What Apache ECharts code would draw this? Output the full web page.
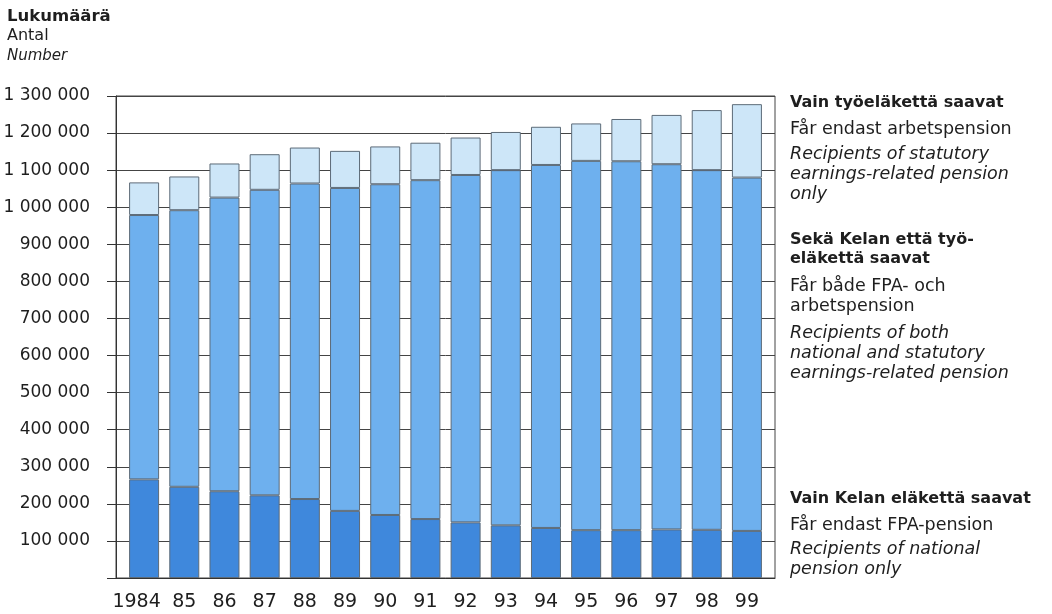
<!DOCTYPE html>
<html><head><meta charset="utf-8">
<script src="https://cdn.jsdelivr.net/npm/echarts@6/dist/echarts.min.js"></script>
<style>html,body{margin:0;padding:0;background:#fff}#c{width:1052px;height:614px}</style>
</head><body><div id="c"></div>
<script>
const years = ['1984','85','86','87','88','89','90','91','92','93','94','95','96','97','98','99'];
// Vain Kelan eläkettä saavat (national pension only)
const nationalOnly = [266000,246000,234000,223000,213000,181000,170000,159000,150000,142000,135000,129000,129000,131000,130000,127000];
// Sekä Kelan että työeläkettä saavat (both)
const both = [713000,746000,792000,824000,851000,871000,892000,914000,937000,958000,979000,996000,995000,985000,970000,953000];
// Vain työeläkettä saavat (earnings-related only)
const earningsOnly = [88000,91000,92000,96000,97000,100000,102000,101000,101000,103000,103000,101000,114000,133000,162000,198000];
const yMax = 1300000, yStep = 100000;

const F = 'DejaVu Sans';
const fmt = v => v === 0 ? '' : String(v).replace(/\B(?=(\d{3})+(?!\d))/g, ' ');
const border = '#5d6b78';
function bar(name, data, color) {
  return { name, type: 'bar', stack: 'a', xAxisIndex: 1, yAxisIndex: 1, data,
    barWidth: 30, itemStyle: { color, borderColor: border, borderWidth: 1 } };
}
const txt = (x, y, s, opt) => ({ type: 'text', style: Object.assign({
  x, y, text: s, fill: '#1e1e1e', font: 'normal 17.5px "' + F + '"', textVerticalAlign: 'middle', textAlign: 'left' }, opt || {}) });
const bold = (x, y, s) => txt(x, y, s, { font: 'bold 16px "' + F + '"' });
const ital = (x, y, s) => txt(x, y, s, { font: 'italic 17.5px "' + F + '"' });

const chart = echarts.init(document.getElementById('c'), null, { renderer: 'canvas' });
chart.setOption({
  animation: false,
  grid: [
    { left: 116, right: 277, top: 96, bottom: 36, show: true, borderColor: '#444', borderWidth: 1, backgroundColor: 'transparent' },
    { left: 124, right: 285, top: 96, bottom: 36 }
  ],
  xAxis: [
    { gridIndex: 0, type: 'value', min: 0, max: 1, show: true,
      axisLine: { show: true, onZero: false, lineStyle: { color: '#333', width: 1 } },
      axisTick: { show: false }, axisLabel: { show: false }, splitLine: { show: false } },
    { gridIndex: 1, type: 'category', data: years,
      axisLine: { show: false }, axisTick: { show: false },
      axisLabel: { interval: 0, color: '#1e1e1e', fontFamily: F, fontSize: 19, margin: 15,
        formatter: (v, i) => i === 0 ? '{first|' + v + '}' : v,
        rich: { first: { color: '#1e1e1e', fontFamily: F, fontSize: 19, padding: [0, 15, 0, 0] } } } }
  ],
  yAxis: [
    { gridIndex: 0, type: 'value', min: 0, max: yMax, interval: yStep,
      axisLine: { show: true, lineStyle: { color: '#333', width: 1 } },
      axisTick: { show: true, length: 9, lineStyle: { color: '#333' } },
      axisLabel: { formatter: fmt, color: '#1e1e1e', fontFamily: F, fontSize: 17, margin: 26 },
      splitLine: { show: true, lineStyle: { color: '#444', width: 1 } } },
    { gridIndex: 1, type: 'value', min: 0, max: yMax, interval: yStep, show: false }
  ],
  series: [
    bar('Vain Kelan eläkettä saavat', nationalOnly, '#3f88dc'),
    bar('Sekä Kelan että työeläkettä saavat', both, '#6eb0ee'),
    bar('Vain työeläkettä saavat', earningsOnly, '#cde6f8')
  ],
  graphic: [
    txt(7, 17, 'Lukumäärä', { font: 'bold 16.5px "' + F + '"' }),
    txt(7, 36, 'Antal', { font: 'normal 16px "' + F + '"' }),
    txt(7, 56, 'Number', { font: 'italic 15px "' + F + '"' }),
    bold(790, 103, 'Vain työeläkettä saavat'),
    txt(790, 129, 'Får endast arbetspension'),
    ital(790, 154, 'Recipients of statutory'),
    ital(790, 174, 'earnings-related pension'),
    ital(790, 194, 'only'),
    bold(790, 240, 'Sekä Kelan että työ-'),
    bold(790, 259, 'eläkettä saavat'),
    txt(790, 286, 'Får både FPA- och'),
    txt(790, 306, 'arbetspension'),
    ital(790, 333, 'Recipients of both'),
    ital(790, 353, 'national and statutory'),
    ital(790, 373, 'earnings-related pension'),
    bold(790, 499, 'Vain Kelan eläkettä saavat'),
    txt(790, 525, 'Får endast FPA-pension'),
    ital(790, 549, 'Recipients of national'),
    ital(790, 569, 'pension only')
  ]
});
</script></body></html>
